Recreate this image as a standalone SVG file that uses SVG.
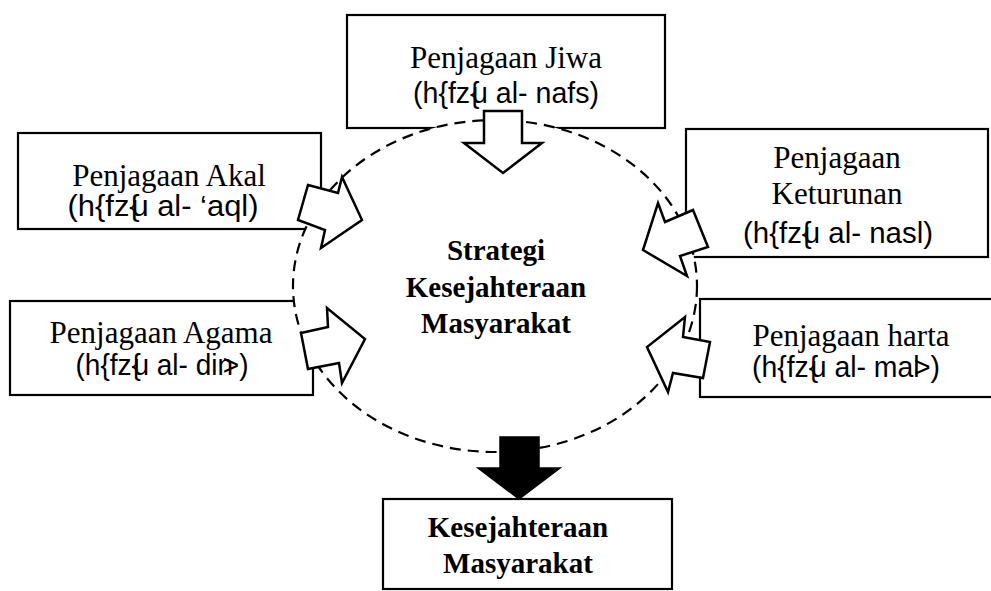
<svg xmlns="http://www.w3.org/2000/svg" width="991" height="591" viewBox="0 0 991 591">
  <style>
    .box { fill: #fff; stroke: #000; stroke-width: 2.2; }
    .t1 { font-family: "Liberation Serif", "Times New Roman", serif; font-size: 31px; fill: #000; text-anchor: middle; }
    .tb { font-family: "Liberation Serif", "Times New Roman", serif; font-size: 29px; font-weight: bold; fill: #000; text-anchor: middle; }
    .t2 { font-family: "Liberation Sans", Arial, sans-serif; font-size: 30px; fill: #000; text-anchor: middle; }
    .ring { fill: #fff; stroke: #000; stroke-width: 2.2; stroke-dasharray: 11 7; }
    .arrow { fill: #fff; stroke: #000; stroke-width: 2.5; stroke-linejoin: miter; }
    .arrow-solid { fill: #000; stroke: #000; stroke-width: 1.5; }
  </style>

  <!-- the five maqasid boxes -->
  <g id="jiwa">
    <rect class="box" x="347" y="15" width="318" height="113"/>
    <text class="t1" x="506" y="68">Penjagaan Jiwa</text>
    <text class="t2" x="506" y="103" textLength="186" lengthAdjust="spacingAndGlyphs">(h{fz{<tspan dx="-8">u</tspan> al- nafs)</text>
  </g>

  <g id="akal">
    <rect class="box" x="18" y="133" width="303" height="96"/>
    <text class="t1" x="169" y="186">Penjagaan Akal</text>
    <text class="t2" x="163" y="216" textLength="191" lengthAdjust="spacingAndGlyphs">(h{fz{<tspan dx="-8">u</tspan> al- ‘aql)</text>
  </g>

  <g id="keturunan">
    <rect class="box" x="686" y="129" width="302" height="128"/>
    <text class="t1" x="837" y="168">Penjagaan</text>
    <text class="t1" x="837" y="204">Keturunan</text>
    <text class="t2" x="838" y="243" textLength="190" lengthAdjust="spacingAndGlyphs">(h{fz{<tspan dx="-8">u</tspan> al-  nasl)</text>
  </g>

  <g id="agama">
    <rect class="box" x="10" y="301" width="303" height="94"/>
    <text class="t1" x="161" y="343">Penjagaan Agama</text>
    <text class="t2" x="162" y="375" textLength="173" lengthAdjust="spacingAndGlyphs">(h{fz{<tspan dx="-8">u</tspan> al- din<tspan dx="-11">&gt;</tspan>)</text>
  </g>

  <g id="harta">
    <rect class="box" x="700" y="299" width="300" height="98"/>
    <text class="t1" x="851" y="346">Penjagaan harta</text>
    <text class="t2" x="846" y="377" textLength="188" lengthAdjust="spacingAndGlyphs">(h{fz{<tspan dx="-8">u</tspan> al- mal<tspan dx="-6">&gt;</tspan>)</text>
  </g>

  <!-- central strategy ring, drawn over the box corners -->
  <g id="strategi">
    <ellipse class="ring" cx="495" cy="286" rx="202" ry="166"/>
    <text class="tb" x="496" y="260">Strategi</text>
    <text class="tb" x="496" y="297">Kesejahteraan</text>
    <text class="tb" x="496" y="333">Masyarakat</text>
  </g>

  <!-- outcome box -->
  <g id="kesejahteraan">
    <rect class="box" x="383" y="499" width="289" height="90"/>
    <text class="tb" x="518" y="537">Kesejahteraan</text>
    <text class="tb" x="518" y="573">Masyarakat</text>
  </g>

  <!-- block arrows feeding into the ring and out to the outcome -->
  <g id="connectors">
    <polygon class="arrow" points="484,111 522,111 522,143 542,143 503,173 464,143 484,143"/>
    <polygon class="arrow" points="308,185 338,193 342,177 362,220 321,248 325,230 298,220"/>
    <polygon class="arrow" points="301,333 328,327 327,308 365,339 342,383 339,363 308,369"/>
    <polygon class="arrow" points="658,203 665,222 693,210 708,247 680,256 687,276 643,250"/>
    <polygon class="arrow" points="685,317 683,337 710,342 703,378 673,373 668,392 647,347"/>
    <polygon class="arrow-solid" points="500,437 539,437 539,468 560,468 519,499 478,468 500,468"/>
  </g>
</svg>
